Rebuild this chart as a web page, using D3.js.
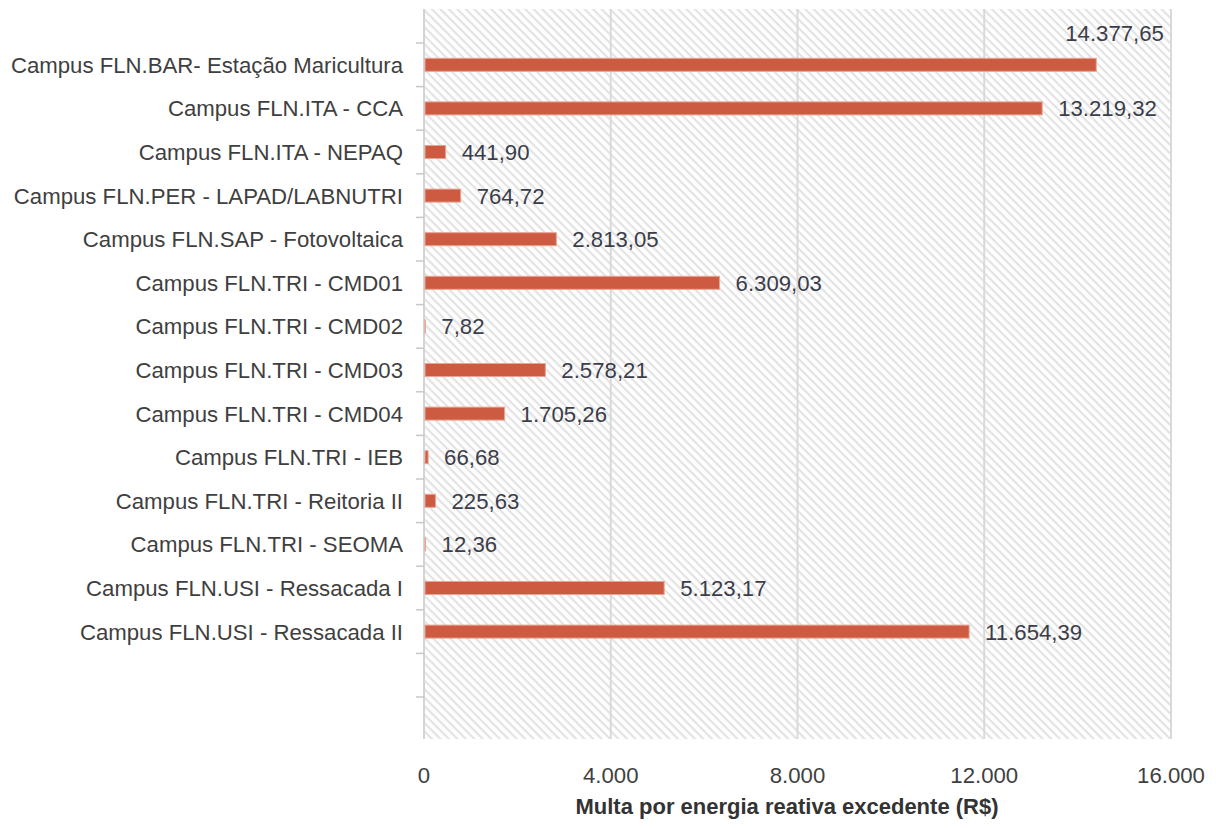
<!DOCTYPE html>
<html>
<head>
<meta charset="utf-8">
<script src="https://cdn.jsdelivr.net/npm/d3@7/dist/d3.min.js"></script>
<style>
  html, body { margin: 0; padding: 0; background: #fff; }
  svg { display: block; font-family: "Liberation Sans", Arial, sans-serif; }
</style>
</head>
<body>
<svg id="chart" width="1216" height="828"></svg>
<script>
// Campus units and the fine charged for excess reactive energy (R$)
const categories = [
  "Campus FLN.BAR- Estação Maricultura",
  "Campus FLN.ITA - CCA",
  "Campus FLN.ITA - NEPAQ",
  "Campus FLN.PER - LAPAD/LABNUTRI",
  "Campus FLN.SAP - Fotovoltaica",
  "Campus FLN.TRI - CMD01",
  "Campus FLN.TRI - CMD02",
  "Campus FLN.TRI - CMD03",
  "Campus FLN.TRI - CMD04",
  "Campus FLN.TRI - IEB",
  "Campus FLN.TRI - Reitoria II",
  "Campus FLN.TRI - SEOMA",
  "Campus FLN.USI - Ressacada I",
  "Campus FLN.USI - Ressacada II"
];
const fines = [
  14377.65, 13219.32, 441.90, 764.72, 2813.05, 6309.03, 7.82,
  2578.21, 1705.26, 66.68, 225.63, 12.36, 5123.17, 11654.39
];
const xTicks = [0, 4000, 8000, 12000, 16000];
const axisTitle = "Multa por energia reativa excedente (R$)";

const svg = d3.select("#chart");
const plot = { left: 424, right: 1171, top: 9, bottom: 739 };

// Empty slots above and below the categories keep the original row layout
const slots = ["__top", ...categories, "__b1", "__b2"];

const x = d3.scaleLinear().domain([0, 16000]).range([plot.left, plot.right]);
const y = d3.scaleBand().domain(slots).range([-0.6, 740.6]).paddingInner(0).paddingOuter(0);

const ptBR = d3.formatLocale({ decimal: ",", thousands: ".", grouping: [3], currency: ["R$", ""] });
const fmtValue = ptBR.format(",.2f");
const fmtTick = ptBR.format(",.0f");

// Diagonal hatch for the plot background (lines running down to the right)
const defs = svg.append("defs");
const pat = defs.append("pattern")
  .attr("id", "hatch")
  .attr("patternUnits", "userSpaceOnUse")
  .attr("width", 6).attr("height", 6)
  .attr("patternTransform", "rotate(45)");
pat.append("rect").attr("width", 6).attr("height", 6).attr("fill", "#ffffff");
pat.append("rect").attr("x", 0).attr("y", 0).attr("width", 6).attr("height", 2.2).attr("fill", "#e3e3e3");

svg.append("rect")
  .attr("x", plot.left).attr("y", plot.top)
  .attr("width", plot.right - plot.left).attr("height", plot.bottom - plot.top)
  .attr("fill", "url(#hatch)");

// Vertical gridlines
svg.append("g").selectAll("line").data(xTicks).join("line")
  .attr("x1", d => x(d)).attr("x2", d => x(d))
  .attr("y1", plot.top).attr("y2", plot.bottom)
  .attr("stroke", "#d9d9d9").attr("stroke-width", 2);

// Category axis with ticks at row boundaries
const boundaries = slots.slice(1).map(s => y(s));
svg.append("line")
  .attr("x1", plot.left).attr("x2", plot.left)
  .attr("y1", plot.top).attr("y2", plot.bottom)
  .attr("stroke", "#d0d0d0").attr("stroke-width", 1.5);
svg.append("g").selectAll("line").data(boundaries).join("line")
  .attr("x1", plot.left - 8).attr("x2", plot.left)
  .attr("y1", d => Math.min(d, plot.bottom)).attr("y2", d => Math.min(d, plot.bottom))
  .attr("stroke", "#c8c8c8").attr("stroke-width", 1.5);

const rows = categories.map((c, i) => ({ cat: c, value: fines[i] }));
const barH = 13;

// Bars
svg.append("g").selectAll("rect").data(rows).join("rect")
  .attr("x", x(0) + 1)
  .attr("y", d => y(d.cat) + y.bandwidth() / 2 - barH / 2)
  .attr("width", d => Math.max(0, x(d.value) - x(0)))
  .attr("height", barH)
  .attr("fill", "#cd5b41")
  .attr("stroke", "#e8a493")
  .attr("stroke-width", 1);

// Category labels
svg.append("g").selectAll("text").data(rows).join("text")
  .attr("x", 403)
  .attr("y", d => y(d.cat) + y.bandwidth() / 2)
  .attr("dy", "0.36em")
  .attr("text-anchor", "end")
  .attr("font-size", 22.2)
  .attr("fill", "#3f3f3f")
  .text(d => d.cat);

// Value labels; the largest one sits above its bar, near the right edge
svg.append("g").selectAll("text").data(rows).join("text")
  .attr("x", (d, i) => i === 0 ? x(d.value) - 30 : x(d.value) + 17)
  .attr("y", (d, i) => y(d.cat) + y.bandwidth() / 2 + (i === 0 ? -32 : 0))
  .attr("dy", "0.36em")
  .attr("font-size", 22.2)
  .attr("fill", "#3b3d4a")
  .text(d => fmtValue(d.value));

// X tick labels
svg.append("g").selectAll("text").data(xTicks).join("text")
  .attr("x", d => x(d))
  .attr("y", 775)
  .attr("dy", "0.36em")
  .attr("text-anchor", "middle")
  .attr("font-size", 22.2)
  .attr("fill", "#3f3f3f")
  .text(d => fmtTick(d));

// Axis title
svg.append("text")
  .attr("x", 787)
  .attr("y", 806)
  .attr("dy", "0.36em")
  .attr("text-anchor", "middle")
  .attr("font-size", 22)
  .attr("font-weight", "bold")
  .attr("fill", "#333333")
  .text(axisTitle);
</script>
</body>
</html>
